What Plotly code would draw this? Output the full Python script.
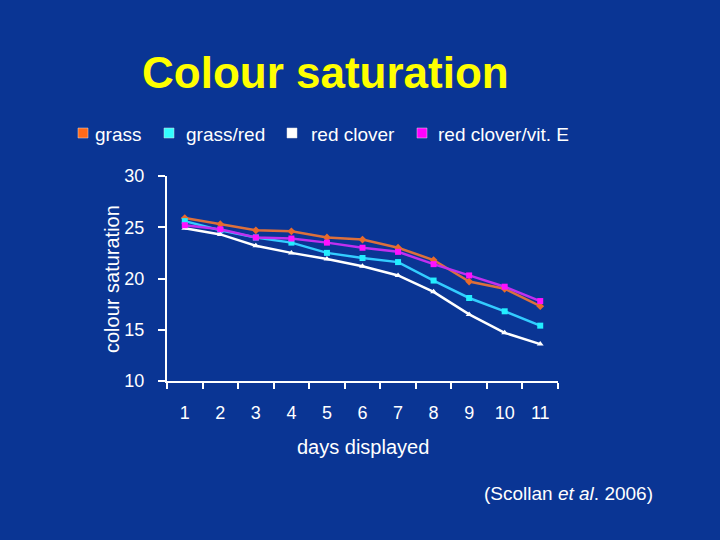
import plotly.graph_objects as go

days = ["1", "2", "3", "4", "5", "6", "7", "8", "9", "10", "11"]
grass = [25.9, 25.3, 24.7, 24.6, 24.0, 23.8, 23.0, 21.8, 19.7, 19.0, 17.3]
grass_red = [25.6, 24.7, 24.0, 23.5, 22.5, 22.0, 21.6, 19.8, 18.1, 16.8, 15.4]
red_clover = [24.9, 24.3, 23.2, 22.5, 21.9, 21.2, 20.3, 18.7, 16.5, 14.7, 13.6]
red_clover_vitE = [25.2, 24.8, 24.0, 23.9, 23.5, 23.0, 22.6, 21.4, 20.3, 19.2, 17.8]

series_names = ["grass", "grass/red", "red clover", "red clover/vit. E"]
series_values = [grass, grass_red, red_clover, red_clover_vitE]
line_colors = ["#dc703c", "#33ccff", "#ffffff", "#c030f0"]
marker_colors = ["#e86a2a", "#22eeff", "#ffffff", "#ff10ff"]
legend_colors = ["#ff6a1a", "#33ffff", "#ffffff", "#ff00ff"]
symbols = ["diamond", "square", "triangle-up", "square"]

BG = "#0a3594"
FONT = "Liberation Sans, Arial, sans-serif"
W, H = 720, 540
L, R, T, B = 167, 162, 176, 159
PW, PH = W - L - R, H - T - B

def px(x):
    return (x - L) / PW

def py(y):
    return 1 - (y - T) / PH

fig = go.Figure()
for name, vals, lc, mc, sym in zip(series_names, series_values, line_colors, marker_colors, symbols):
    fig.add_trace(go.Scatter(
        x=days, y=vals, name=name, mode="lines+markers",
        line=dict(color=lc, width=2.5),
        marker=dict(color=mc, size=6, symbol=sym),
        showlegend=False,
    ))

annotations = []
shapes = []
# manual legend
legend_pos = [(78, 93), (164, 184), (287, 309), (417, 436)]
for (sx, tx), name, col in zip(legend_pos, series_names, legend_colors):
    shapes.append(dict(type="rect", xref="paper", yref="paper",
                       x0=px(sx), x1=px(sx + 10), y0=py(138), y1=py(128),
                       fillcolor=col, line=dict(color="#dddddd", width=0.5)))
    annotations.append(dict(text=name, xref="paper", yref="paper", x=px(tx), y=py(134),
                            xanchor="left", yanchor="middle", showarrow=False,
                            font=dict(family=FONT, size=19, color="white")))

annotations.append(dict(text="Colour saturation", xref="paper", yref="paper",
                        x=px(325), y=py(72), xanchor="center", yanchor="middle",
                        showarrow=False,
                        font=dict(family=FONT, size=44, color="#ffff00", weight="bold")))
annotations.append(dict(text="days displayed", xref="paper", yref="paper",
                        x=px(363), y=py(447), xanchor="center", yanchor="middle",
                        showarrow=False, font=dict(family=FONT, size=20, color="white")))
annotations.append(dict(text="colour saturation", xref="paper", yref="paper",
                        x=px(112), y=py(279), xanchor="center", yanchor="middle",
                        textangle=-90, showarrow=False,
                        font=dict(family=FONT, size=20, color="white")))
annotations.append(dict(text="(Scollan <i>et al</i>. 2006)", xref="paper", yref="paper",
                        x=px(568), y=py(493), xanchor="center", yanchor="middle",
                        showarrow=False, font=dict(family=FONT, size=19, color="white")))

fig.update_layout(
    width=W, height=H,
    margin=dict(l=L, r=R, t=T, b=B),
    paper_bgcolor=BG, plot_bgcolor=BG,
    font=dict(family=FONT, color="white", size=18),
    annotations=annotations, shapes=shapes,
    showlegend=False,
)
fig.update_xaxes(
    type="category", range=[-0.5, 10.5], tickson="boundaries",
    ticks="outside", ticklen=6, tickwidth=2, tickcolor="white",
    showline=True, linecolor="white", linewidth=2,
    showgrid=False, zeroline=False,
    tickfont=dict(family=FONT, size=18, color="white"),
    ticklabelstandoff=14,
)
fig.update_yaxes(
    range=[10, 30], tickvals=[10, 15, 20, 25, 30],
    ticks="outside", ticklen=7, tickwidth=2, tickcolor="white",
    showline=True, linecolor="white", linewidth=2,
    showgrid=False, zeroline=False,
    tickfont=dict(family=FONT, size=18, color="white"),
    ticklabelstandoff=10,
)

fig.write_html(
    "out.html",
    config={"displayModeBar": False},
    post_script="document.body.style.margin='0';document.body.style.padding='0';"
                "document.documentElement.style.background='" + BG + "';",
)
